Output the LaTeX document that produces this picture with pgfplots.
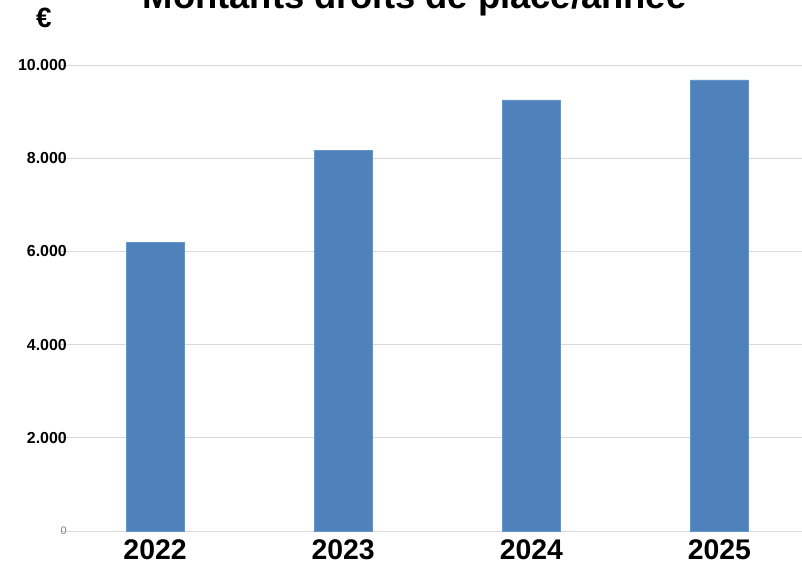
\documentclass[border=0pt]{standalone}
\usepackage{fontspec}
\setmainfont{Liberation Sans}
\usepackage{pgfplots}
\pgfplotsset{compat=1.18}
\definecolor{barblue}{RGB}{79,129,189}
\begin{document}
\begin{tikzpicture}
\useasboundingbox (0bp,0bp) rectangle (802bp,561bp);
\clip (0bp,0bp) rectangle (802bp,561bp);
\begin{axis}[
  at={(61bp,30bp)}, anchor=south west,
  scale only axis, width=745bp, height=466bp,
  xmin=-0.5, xmax=3.46, ymin=0, ymax=10000,
  scaled y ticks=false,
  axis line style={draw=none},
  major tick length=0pt,
  ytick={0,2000,4000,6000,8000,10000},
  yticklabels={{\fontsize{11}{11}\selectfont\mdseries\color{gray}0\hspace{15bp}},2.000,4.000,6.000,8.000,10.000},
  yticklabel style={font=\fontsize{16}{16}\selectfont\bfseries, anchor=east, inner sep=0pt, xshift=6bp},
  xtick={0,1,2,3},
  xticklabels={2022,2023,2024,2025},
  xticklabel style={font=\fontsize{28.5}{28.5}\selectfont\bfseries, anchor=north, inner sep=0pt, yshift=-8bp},
  ymajorgrids,
  grid style={draw=gray!30, line width=0.8pt},
  clip=false,
]
\addplot[ybar, bar width=58bp, fill=barblue, draw=barblue!85!white] coordinates {(0,6200) (1,8170) (2,9250) (3,9680)};
\end{axis}
\node[anchor=base, font=\fontsize{36.5}{36.5}\selectfont\bfseries] at (414.5bp,552bp) {Montants droits de place/année};
\node[font=\fontsize{28}{28}\selectfont\bfseries] at (44bp,543bp) {€};
\end{tikzpicture}
\end{document}
